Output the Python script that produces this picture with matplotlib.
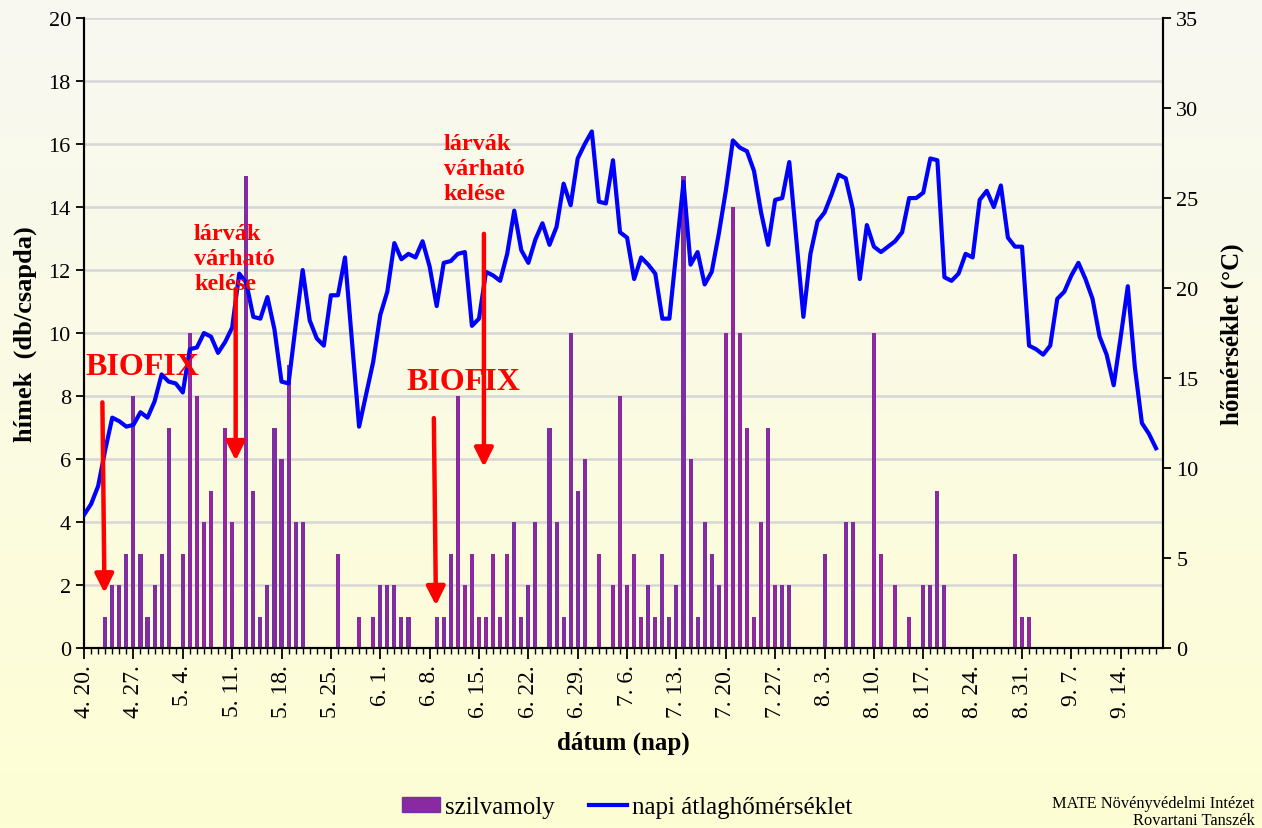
import matplotlib
matplotlib.use("Agg")
import matplotlib.pyplot as plt
import numpy as np
import pandas as pd
from matplotlib.patches import Patch
from matplotlib.lines import Line2D

plt.rcParams['font.family'] = ['Liberation Serif', 'DejaVu Serif']

# daily categories, 4.20. - 9.19.
dates = pd.date_range('2021-04-20', periods=153, freq='D')
date_labels = [f"{d.month}. {d.day}." for d in dates]

# szilvamoly (db/csapda), one value per day
moths = [0, 0, 0, 1, 2, 2, 3, 8, 3, 1, 2, 3, 7, 0, 3, 10, 8, 4, 5, 0,
         7, 4, 0, 15, 5, 1, 2, 7, 6, 9, 4, 4, 0, 0, 0, 0, 3, 0, 0, 1,
         0, 1, 2, 2, 2, 1, 1, 0, 0, 0, 1, 1, 3, 8, 2, 3, 1, 1, 3, 1,
         3, 4, 1, 2, 4, 0, 7, 4, 1, 10, 5, 6, 0, 3, 0, 2, 8, 2, 3, 1,
         2, 1, 3, 1, 2, 15, 6, 1, 4, 3, 2, 10, 14, 10, 7, 1, 4, 7, 2, 2,
         2, 0, 0, 0, 0, 3, 0, 0, 4, 4, 0, 0, 10, 3, 0, 2, 0, 1, 0, 2,
         2, 5, 2, 0, 0, 0, 0, 0, 0, 0, 0, 0, 3, 1, 1, 0, 0, 0, 0, 0,
         0, 0, 0, 0, 0, 0, 0, 0, 0, 0, 0, 0, 0]

# napi átlaghőmérséklet (°C)
temps = [7.4, 8.0, 9.0, 11.0, 12.8, 12.6, 12.3, 12.4, 13.1, 12.8,
         13.7, 15.2, 14.8, 14.7, 14.2, 16.6, 16.7, 17.5, 17.3, 16.4,
         17.0, 17.8, 20.8, 20.3, 18.4, 18.3, 19.5, 17.7, 14.8, 14.7,
         17.9, 21.0, 18.2, 17.2, 16.8, 19.6, 19.6, 21.7, 17.0, 12.3,
         14.1, 15.9, 18.5, 19.8, 22.5, 21.6, 21.9, 21.7, 22.6, 21.2,
         19.0, 21.4, 21.5, 21.9, 22.0, 17.9, 18.3, 20.9, 20.7, 20.4,
         21.9, 24.3, 22.1, 21.4, 22.7, 23.6, 22.4, 23.4, 25.8, 24.6,
         27.2, 28.0, 28.7, 24.8, 24.7, 27.1, 23.1, 22.8, 20.5, 21.7,
         21.3, 20.8, 18.3, 18.3, 22.1, 25.9, 21.3, 22.0, 20.2, 20.9,
         23.0, 25.4, 28.2, 27.8, 27.6, 26.5, 24.2, 22.4, 24.9, 25.0,
         27.0, 22.7, 18.4, 21.9, 23.7, 24.2, 25.2, 26.3, 26.1, 24.4,
         20.5, 23.5, 22.3, 22.0, 22.3, 22.6, 23.1, 25.0, 25.0, 25.3,
         27.2, 27.1, 20.6, 20.4, 20.8, 21.9, 21.7, 24.9, 25.4, 24.5,
         25.7, 22.8, 22.3, 22.3, 16.8, 16.6, 16.3, 16.8, 19.4, 19.8,
         20.7, 21.4, 20.5, 19.4, 17.3, 16.3, 14.6, 17.3, 20.1, 15.6,
         12.5, 11.9, 11.1]

# annotations: (day, count) start -> end of red arrows
biofix_arrows = [((2.6, 7.8), (2.9, 1.75)), ((49.6, 7.3), (49.9, 1.35))]
larva_arrows = [((21.5, 11.4), (21.5, 5.95)), ((56.7, 13.15), (56.7, 5.75))]
biofix_text = [(0.2, 8.95), (45.7, 8.45)]
larva_text = [(15.6, 13.5), (51.0, 16.35)]

days = np.arange(len(dates))

fig = plt.figure(figsize=(12.62, 8.29), dpi=100)

# background gradient (white-ish top -> light yellow bottom)
bg = fig.add_axes([0, 0, 1, 1], zorder=-10)
top_c = np.array([248, 248, 242]) / 255
bot_c = np.array([254, 254, 212]) / 255
t = np.linspace(0, 1, 256)[:, None]
grad = top_c[None, :] * (1 - t) + bot_c[None, :] * t
bg.imshow(grad[:, None, :], aspect='auto', extent=[0, 1, 0, 1])
bg.axis('off')

ax = fig.add_axes([0.0666, 0.2171, 0.855, 0.7599])
ax.patch.set_visible(False)
ax2 = ax.twinx()
ax2.patch.set_visible(False)

ax.bar(days, moths, width=0.58, color='#7332A3', zorder=3)
ax.bar(days, moths, width=0.2, color='#A3209F', zorder=3)
ax.set_ylim(0, 20)
ax.set_yticks(range(0, 21, 2))
ax.set_xlim(0, 153)
ax.grid(axis='y', color='#D6D6D6', linewidth=1.8, zorder=0)
ax.set_axisbelow(True)

ax2.plot(days, temps, color='#0000FF', linewidth=3.0, zorder=4)
ax2.set_ylim(0, 35)
ax2.set_yticks(range(0, 36, 5))

ax.set_xticks(days[::7])
ax.set_xticklabels(date_labels[::7], rotation=90, fontsize=17)
ax.set_xticks(days, minor=True)
ax.tick_params(axis='x', which='major', length=8, width=1.3, direction='out')
ax.tick_params(axis='x', which='minor', length=4, width=1.0, direction='out')
ax.tick_params(axis='y', length=6, width=1.3, labelsize=16)
ax2.tick_params(axis='y', length=6, width=1.3, labelsize=16)

for a in (ax, ax2):
    a.spines['top'].set_visible(False)
    for s in ('left', 'right', 'bottom'):
        a.spines[s].set_linewidth(1.5)

ax.set_ylabel('hímek  (db/csapda)', fontsize=19, fontweight='bold', labelpad=8)
ax2.set_ylabel('hőmérséklet (°C)', fontsize=18, fontweight='bold', labelpad=16)
ax.set_xlabel('dátum (nap)', fontsize=18, fontweight='bold', labelpad=10)

for (x0, y0), (x1, y1) in biofix_arrows + larva_arrows:
    ax2.annotate('', xy=(x1, y1), xytext=(x0, y0), xycoords=ax.transData,
                 textcoords=ax.transData, zorder=6,
                 arrowprops=dict(arrowstyle='-|>', color='#FF0000', lw=3.2,
                                 mutation_scale=28, shrinkA=0, shrinkB=0))
for x, y in biofix_text:
    ax2.text(x, y, 'BIOFIX', transform=ax.transData, color='#FF0000',
             fontsize=23, fontweight='bold', ha='left', va='center', zorder=6)
for x, y in larva_text:
    ax2.text(x, y, 'lárvák\nvárható\nkelése', transform=ax.transData,
             color='#FF0000', fontsize=17.5, fontweight='bold', ha='left',
             va='top', linespacing=1.25, zorder=6)

handles = [Patch(facecolor='#8A2AA2', edgecolor='#7332A3'),
           Line2D([0], [0], color='#0000FF', linewidth=3.0)]
fig.legend(handles, ['szilvamoly', 'napi átlaghőmérséklet'], loc='center',
           bbox_to_anchor=(0.497, 0.025), ncol=2, frameon=False, fontsize=18,
           handlelength=1.5, columnspacing=1.4, handletextpad=0.2,
           handleheight=0.6)

fig.text(0.994, 0.0199, 'MATE Növényvédelmi Intézet\nRovartani Tanszék',
         ha='right', va='center', fontsize=11.8, linespacing=1.15)

fig.savefig('out.png', dpi=100)
